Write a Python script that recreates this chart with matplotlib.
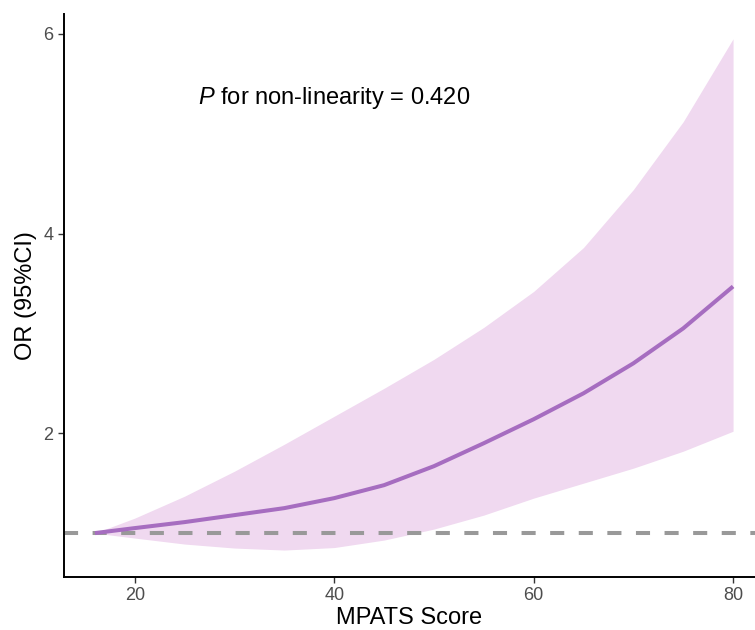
import matplotlib
matplotlib.use("Agg")
import matplotlib.pyplot as plt
import numpy as np

plt.rcParams['font.family'] = ['Liberation Sans', 'DejaVu Sans']
plt.rcParams['mathtext.fontset'] = 'custom'
plt.rcParams['mathtext.it'] = 'Liberation Sans:italic'
plt.rcParams['mathtext.rm'] = 'Liberation Sans'

score = [16, 20, 25, 30, 35, 40, 45, 50, 55, 60, 65, 70, 75, 80]
or_est = [1.00, 1.05, 1.11, 1.18, 1.25, 1.35, 1.48, 1.67, 1.90, 2.14, 2.40, 2.70, 3.05, 3.47]
or_upper = [1.00, 1.15, 1.37, 1.62, 1.89, 2.17, 2.45, 2.74, 3.06, 3.42, 3.86, 4.44, 5.12, 5.95]
or_lower = [1.00, 0.95, 0.89, 0.85, 0.83, 0.855, 0.93, 1.04, 1.18, 1.35, 1.50, 1.65, 1.82, 2.02]
xticks = [20, 40, 60, 80]
yticks = [2, 4, 6]
ref_line = 1.0
annotation = r"$\it{P}$ for non-linearity = 0.420"

fig = plt.figure(figsize=(7.55, 6.3), dpi=100)
ax = fig.add_axes([0.0848, 0.0841, 0.9152, 0.8939])

ax.fill_between(score, or_lower, or_upper, color='#F0D9F0', linewidth=0, zorder=1)
ax.plot(score, or_est, color='#A66DC0', lw=2.9, solid_capstyle='butt',
        solid_joinstyle='round', zorder=3)
ax.axhline(ref_line, color='#999999', lw=2.9, dashes=(3.5, 3.6), zorder=2)

ax.set_xlim(12.9, 82.2)
ax.set_ylim(0.56, 6.2)
ax.set_xticks(xticks)
ax.set_yticks(yticks)
ax.tick_params(axis='both', colors='#333333', labelcolor='#4D4D4D', labelsize=13, length=4, width=1.0)

for s in ['top', 'right']:
    ax.spines[s].set_visible(False)
for s in ['left', 'bottom']:
    ax.spines[s].set_linewidth(1.4)
    ax.spines[s].set_color('black')

ax.set_xlabel('MPATS Score', fontsize=17, labelpad=2)
ax.set_ylabel('OR (95%CI)', fontsize=17, labelpad=5)

ax.text(26.3, 5.36, annotation, fontsize=17, va='center', ha='left', color='black')

fig.savefig('out.png', dpi=100)
